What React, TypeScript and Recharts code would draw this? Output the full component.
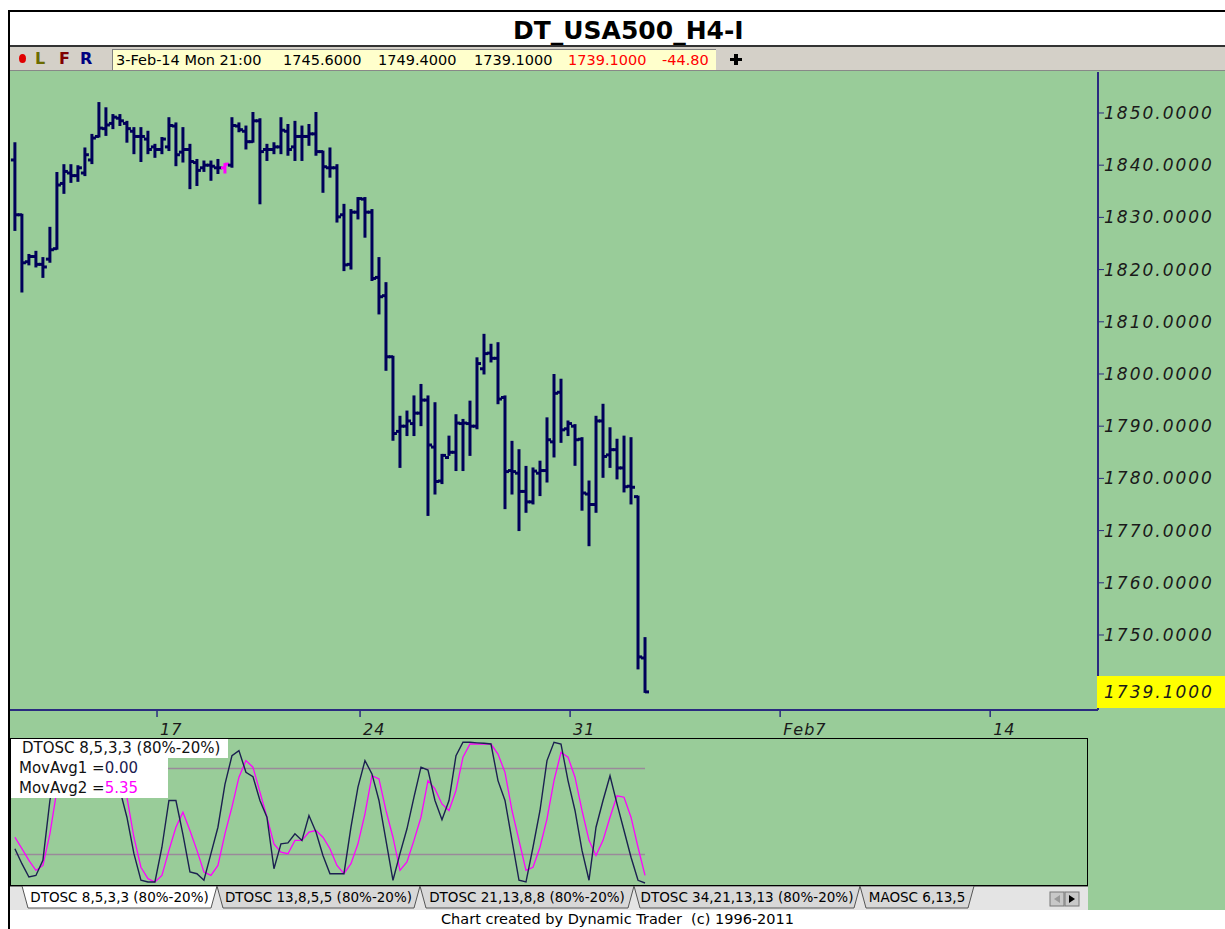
import React from "react";
import { ComposedChart, Bar, XAxis, YAxis, LineChart, Line, ReferenceLine } from "recharts";

// H4 bars, DT_USA500
const openP = [
  1841.0, 1830.5, 1821.5, 1822.5, 1821.0, 1822.0, 1824.0, 1836.5, 1838.5, 1838.0,
  1838.5, 1841.0, 1845.5, 1847.0, 1848.0, 1849.0, 1848.0, 1846.5, 1845.5, 1845.0,
  1843.5, 1843.0, 1843.5, 1847.5, 1842.5, 1843.0, 1840.5, 1839.5, 1840.0, 1839.5,
  1839.5, 1840.0, 1847.5, 1846.5, 1844.5, 1848.5, 1843.0, 1843.0, 1843.5, 1846.5,
  1843.5, 1845.5, 1845.5, 1846.0, 1842.6, 1839.5, 1839.5, 1830.5, 1821.0, 1831.0,
  1833.5, 1831.0, 1818.5, 1815.0, 1803.3, 1789.0, 1790.0, 1790.5, 1792.5, 1795.0,
  1786.0, 1779.5, 1784.0, 1785.0, 1790.5, 1790.5, 1790.0, 1801.0, 1804.0, 1803.0,
  1795.5, 1781.5, 1781.0, 1777.5, 1775.5, 1781.0, 1781.5, 1787.0, 1796.5, 1789.5,
  1790.0, 1787.5, 1777.0, 1775.0, 1791.0, 1784.5, 1785.5, 1782.0, 1778.5, 1776.5, 1745.6,
];
const highP = [
  1844.2, 1830.5, 1822.8, 1823.4, 1822.2, 1828.0, 1838.5, 1840.0, 1840.0, 1839.8,
  1843.2, 1845.8, 1851.9, 1850.9, 1849.6, 1849.6, 1848.3, 1847.1, 1847.1, 1846.4,
  1843.9, 1845.2, 1849.0, 1848.0, 1847.1, 1843.9, 1841.0, 1840.7, 1840.7, 1841.0,
  1840.2, 1849.0, 1848.0, 1847.4, 1850.0, 1848.8, 1843.9, 1844.2, 1849.0, 1847.7,
  1848.3, 1847.4, 1847.7, 1850.0, 1842.6, 1843.2, 1840.0, 1832.4, 1831.4, 1833.7,
  1833.7, 1831.4, 1822.2, 1817.4, 1803.3, 1791.8, 1792.8, 1795.7, 1797.9, 1795.7,
  1794.4, 1784.5, 1788.0, 1792.1, 1791.2, 1794.7, 1803.0, 1807.5, 1805.6, 1805.9,
  1795.7, 1787.0, 1785.4, 1782.2, 1781.9, 1783.2, 1791.5, 1799.8, 1798.9, 1790.9,
  1790.2, 1787.7, 1779.4, 1791.8, 1794.1, 1789.6, 1787.4, 1788.0, 1787.7, 1776.5, 1749.4,
];
const lowP = [
  1827.6, 1815.8, 1821.0, 1820.6, 1818.6, 1821.5, 1824.0, 1834.7, 1836.8, 1837.0,
  1838.1, 1840.4, 1845.5, 1845.8, 1847.1, 1847.7, 1844.5, 1842.3, 1840.8, 1842.3,
  1841.6, 1842.3, 1842.9, 1840.0, 1840.7, 1835.6, 1836.2, 1838.9, 1837.2, 1838.5,
  1838.6, 1839.7, 1846.5, 1843.2, 1844.5, 1832.7, 1841.0, 1842.3, 1842.3, 1842.0,
  1841.0, 1841.0, 1843.9, 1842.0, 1834.9, 1837.8, 1829.2, 1819.9, 1820.2, 1829.8,
  1826.3, 1818.0, 1811.6, 1800.8, 1787.4, 1782.2, 1788.3, 1788.3, 1790.2, 1773.0,
  1777.1, 1779.1, 1784.5, 1781.6, 1781.6, 1784.5, 1789.6, 1800.1, 1802.4, 1794.4,
  1774.3, 1777.1, 1770.1, 1773.6, 1775.2, 1776.8, 1779.4, 1784.2, 1787.0, 1788.3,
  1782.6, 1774.0, 1767.2, 1773.6, 1780.3, 1782.2, 1780.0, 1777.5, 1775.2, 1743.6, 1739.1,
];
const closeP = [
  1830.5, 1821.3, 1822.5, 1821.0, 1820.5, 1823.8, 1836.2, 1838.8, 1838.0, 1839.5,
  1842.0, 1845.2, 1847.1, 1847.7, 1849.2, 1848.5, 1847.0, 1845.5, 1845.5, 1843.0,
  1843.0, 1845.0, 1847.6, 1842.0, 1843.0, 1840.7, 1839.0, 1840.0, 1839.8, 1839.5,
  1840.2, 1847.6, 1846.8, 1844.5, 1848.5, 1842.6, 1843.0, 1843.5, 1846.7, 1843.0,
  1845.5, 1845.5, 1846.0, 1842.6, 1839.7, 1839.5, 1830.1, 1820.9, 1831.0, 1833.6,
  1831.0, 1818.3, 1814.8, 1803.3, 1788.6, 1790.0, 1791.0, 1792.5, 1795.0, 1786.4,
  1779.4, 1784.4, 1785.0, 1790.6, 1790.6, 1790.0, 1802.0, 1803.9, 1803.0, 1795.2,
  1781.3, 1781.3, 1777.5, 1775.5, 1781.4, 1781.5, 1787.4, 1796.3, 1789.3, 1790.5,
  1787.4, 1777.2, 1775.0, 1791.0, 1784.2, 1785.5, 1782.0, 1778.4, 1778.3, 1745.8, 1739.1,
];

// DTOSC 8,5,3,3 and its moving average
const dtosc = [
  24, 13.5, 4.2, 5.3, 15.8, 57.7, 85, 95, 97, 98,
  99, 100, 100, 98, 85, 65, 46, 20.5, 1.9, 0.7,
  0.7, 25, 57.7, 57.7, 34, 7.7, 6.5, 1.9, 20.5, 39,
  69, 89, 92.6, 77.4, 74.4, 57.7, 46, 10, 27.4, 28,
  34.4, 29.8, 47.2, 35.6, 19.3, 6.5, 6.5, 6.5, 39, 67,
  85.6, 76.3, 57.7, 29.8, 1.9, 20.5, 37.9, 60, 81, 79,
  57.7, 44.2, 57.7, 89, 98.4, 98.4, 98, 97.7, 97.2, 71.6,
  57.7, 29.8, 1.9, 0.7, 25, 50.7, 85.6, 98.4, 97.2, 71.6,
  50.7, 22.8, 1.9, 39, 57.7, 75, 55.3, 36.7, 18, 1.9, 0,
];
const movAvg2 = [
  32, 24, 15.8, 8.8, 12.3, 34.4, 65, 80, 90, 95,
  97, 98, 99, 99, 95, 85, 60, 32, 11, 3,
  0.7, 5.3, 22.8, 39, 49.5, 36.7, 22.8, 7.7, 5.3, 12.3,
  34.4, 53, 74, 85.6, 81, 63.5, 46, 27.4, 21.6, 20.5,
  29.8, 29.8, 35.6, 36.7, 32, 24, 12.3, 6.5, 13.5, 27.4,
  48.4, 75, 72.8, 50.7, 32, 8.8, 14.7, 29.8, 46, 71.6,
  65.8, 55.3, 50.7, 64.7, 88, 97.2, 97.2, 97.2, 97.2, 90.2,
  77.4, 50.7, 29.8, 8.8, 11, 25, 44.9, 71.6, 91.4, 88,
  74, 50.7, 29.8, 19.3, 29.8, 46, 61, 60, 46, 25, 5.35,
];

const priceTicks = [1750, 1760, 1770, 1780, 1790, 1800, 1810, 1820, 1830, 1840, 1850];
const dateTickIndex = [20.3, 49.3, 79.3, 109.3, 139.3];
const dateTickLabel = ["17", "24", "31", "Feb7", "14"];
const lastPrice = 1739.1;
const markedBar = 30;

const xDomain: [number, number] = [-0.7, 154.7];
const yDomain: [number, number] = [1735.63, 1857.85];

const bars = openP.map((o, i) => ({
  i,
  open: o,
  high: highP[i],
  low: lowP[i],
  close: closeP[i],
  range: [lowP[i], highP[i]],
}));
const osc = dtosc.map((v, i) => ({ i, osc: v, avg: movAvg2[i] }));

const UI = "'DejaVu Sans', 'Liberation Sans', sans-serif";
const AX = "'DejaVu Sans', sans-serif";
const NAVY = "#00005A";

const OhlcShape = (props: any) => {
  const { x, y, width, height, payload } = props;
  const top = Math.min(y, y + height);
  const h = Math.abs(height);
  const span = payload.high - payload.low || 1;
  const py = (v: number) => top + ((payload.high - v) / span) * h;
  const cx = x + width / 2;
  const color = payload.i === markedBar ? "#FF00FF" : NAVY;
  return (
    <g stroke={color} strokeWidth={3} fill="none">
      <line x1={cx} x2={cx} y1={top - 1} y2={top + h + 1} />
      <line x1={cx - 4} x2={cx} y1={py(payload.open)} y2={py(payload.open)} />
      <line x1={cx} x2={cx + 4} y1={py(payload.close)} y2={py(payload.close)} />
    </g>
  );
};

const PriceTick = (props: any) => {
  const { x, y, payload } = props;
  return (
    <text x={x} y={y + 6} fill="#1a1a1a" fontSize={17} fontStyle="italic" fontFamily={AX} letterSpacing={2}>
      {payload.value.toFixed(4)}
    </text>
  );
};

const DateTick = (props: any) => {
  const { x, y, payload } = props;
  const k = dateTickIndex.indexOf(payload.value);
  return (
    <text x={x + 3} y={y + 16} fill="#1a1a1a" fontSize={16} fontStyle="italic" fontFamily={AX} letterSpacing={1}>
      {k >= 0 ? dateTickLabel[k] : ""}
    </text>
  );
};

const tabs = [
  { label: "DTOSC 8,5,3,3 (80%-20%)", x0: 22, x1: 217 },
  { label: "DTOSC 13,8,5,5 (80%-20%)", x0: 217, x1: 420 },
  { label: "DTOSC 21,13,8,8 (80%-20%)", x0: 420, x1: 634 },
  { label: "DTOSC 34,21,13,13 (80%-20%)", x0: 634, x1: 860 },
  { label: "MAOSC 6,13,5", x0: 860, x1: 974 },
];

const abs = (l: number, t: number, w: number, h: number, extra: React.CSSProperties = {}): React.CSSProperties => ({
  position: "absolute",
  left: l,
  top: t,
  width: w,
  height: h,
  ...extra,
});

export default function App() {
  return (
    <div style={abs(0, 0, 1225, 929, { background: "#fff", fontFamily: UI, overflow: "hidden" })}>
      {/* frame + title */}
      <div style={abs(8, 10, 1217, 2, { background: "#000" })} />
      <div style={abs(8, 10, 2, 919, { background: "#000" })} />
      <div style={abs(513, 15, 400, 32, { fontWeight: "bold", fontSize: 25, lineHeight: "32px", color: "#000" })}>
        DT_USA500_H4-I
      </div>
      <div style={abs(10, 45, 1215, 2, { background: "#333" })} />

      {/* toolbar */}
      <div style={abs(10, 47, 1215, 24, { background: "#D4D0C8" })} />
      <div style={abs(19, 54, 7, 9, { background: "#E00000", borderRadius: "50%" })} />
      <div style={abs(35, 47, 14, 24, { color: "#6B6B00", fontWeight: "bold", fontSize: 16, lineHeight: "24px" })}>L</div>
      <div style={abs(59, 47, 14, 24, { color: "#800000", fontWeight: "bold", fontSize: 16, lineHeight: "24px" })}>F</div>
      <div style={abs(80, 47, 14, 24, { color: "#000080", fontWeight: "bold", fontSize: 16, lineHeight: "24px" })}>R</div>
      <div
        style={abs(112, 49, 603, 20, {
          background: "#FFFFCC",
          borderLeft: "1px solid #808080",
          borderTop: "1px solid #808080",
          overflow: "hidden",
          fontSize: 14.5,
          lineHeight: "20px",
          whiteSpace: "nowrap",
        })}
      >
        <span style={{ position: "absolute", left: 3 }}>3-Feb-14 Mon 21:00</span>
        <span style={{ position: "absolute", left: 170 }}>1745.6000</span>
        <span style={{ position: "absolute", left: 265 }}>1749.4000</span>
        <span style={{ position: "absolute", left: 361 }}>1739.1000</span>
        <span style={{ position: "absolute", left: 455, color: "#FF0000" }}>1739.1000</span>
        <span style={{ position: "absolute", left: 549, color: "#FF0000" }}>-44.80</span>
      </div>
      <div style={abs(730, 58, 12, 3, { background: "#000" })} />
      <div style={abs(734, 54, 4, 11, { background: "#000" })} />
      <div style={abs(10, 70, 1215, 1, { background: "#888" })} />

      {/* green area */}
      <div style={abs(10, 71, 1215, 839, { background: "#99CC99" })} />

      {/* price panel */}
      <div style={abs(0, 0, 1225, 760)}>
        <ComposedChart width={1225} height={760} data={bars} margin={{ top: 72, right: 0, bottom: 20, left: 10 }}>
          <XAxis
            dataKey="i"
            type="number"
            domain={xDomain}
            allowDataOverflow
            ticks={dateTickIndex}
            interval={0}
            height={30}
            axisLine={{ stroke: "#2A2A80", strokeWidth: 2 }}
            tickLine={{ stroke: "#2A2A80", strokeWidth: 1.5 }}
            tickSize={7}
            tickMargin={2}
            tick={<DateTick />}
          />
          <YAxis
            orientation="right"
            width={127}
            domain={yDomain}
            allowDataOverflow
            ticks={priceTicks}
            interval={0}
            axisLine={{ stroke: "#2A2A80", strokeWidth: 2 }}
            tickLine={{ stroke: "#2A2A80", strokeWidth: 1 }}
            tickSize={6}
            tickMargin={0}
            tick={<PriceTick />}
          />
          <Bar dataKey="range" barSize={7} shape={OhlcShape} isAnimationActive={false} />
        </ComposedChart>
      </div>
      <div
        style={abs(1097, 676, 128, 32, {
          background: "#FFFF00",
          fontFamily: AX,
          fontStyle: "italic",
          fontSize: 17,
          letterSpacing: 2,
          lineHeight: "32px",
          paddingLeft: 7,
          boxSizing: "border-box",
          color: "#1a1a1a",
        })}
      >
        {lastPrice.toFixed(4)}
      </div>

      {/* oscillator panel */}
      <div style={abs(10, 700, 1215, 200)}>
        <LineChart width={1215} height={200} data={osc} margin={{ top: 40, right: 127, bottom: 17, left: 0 }}>
          <XAxis dataKey="i" type="number" domain={xDomain} allowDataOverflow hide />
          <YAxis domain={[0, 100]} hide />
          <ReferenceLine segment={[{ x: 0, y: 80 }, { x: 90, y: 80 }]} stroke="#9A8A9A" strokeWidth={1.5} />
          <ReferenceLine segment={[{ x: 0, y: 20 }, { x: 90, y: 20 }]} stroke="#9A8A9A" strokeWidth={1.5} />
          <Line dataKey="avg" stroke="#FF00FF" strokeWidth={1.3} dot={false} isAnimationActive={false} />
          <Line dataKey="osc" stroke="#1B2050" strokeWidth={1.4} dot={false} isAnimationActive={false} />
        </LineChart>
      </div>
      <div style={abs(10, 738, 1078, 148, { border: "1px solid #000", boxSizing: "border-box" })} />
      <div style={abs(11, 739, 217, 19, { background: "#fff" })} />
      <div style={abs(11, 758, 157, 40, { background: "#fff" })} />
      <div style={abs(22, 739, 220, 19, { fontSize: 15, lineHeight: "19px", color: "#111" })}>DTOSC 8,5,3,3 (80%-20%)</div>
      <div style={abs(19, 758, 160, 20, { fontSize: 15, lineHeight: "20px", color: "#111" })}>
        MovAvg1 =<span style={{ color: "#1B2050" }}>0.00</span>
      </div>
      <div style={abs(19, 778, 160, 20, { fontSize: 15, lineHeight: "20px", color: "#111" })}>
        MovAvg2 =<span style={{ color: "#FF00FF" }}>5.35</span>
      </div>

      {/* tabs */}
      <svg style={abs(10, 886, 1078, 24)} width={1078} height={24}>
        <rect x={0} y={0} width={1078} height={24} fill="#E4E4E4" />
        <line x1={0} x2={1078} y1={0.5} y2={0.5} stroke="#808080" />
        {tabs.map((t, k) => (
          <g key={t.label}>
            <polygon
              points={`${t.x0 - 10},0 ${t.x1 - 10},0 ${t.x1 - 16},22 ${t.x0 - 4},22`}
              fill={k === 0 ? "#FFFFFF" : "#D8D8D8"}
              stroke="#555"
              strokeWidth={1}
            />
            <text
              x={(t.x0 + t.x1) / 2 - 10}
              y={16}
              textAnchor="middle"
              fontSize={13.5}
              fontFamily={UI}
              fill="#000"
            >
              {t.label}
            </text>
          </g>
        ))}
        <rect x={1040} y={6} width={14} height={14} fill="#C8C8C8" stroke="#777" />
        <rect x={1055} y={6} width={14} height={14} fill="#C8C8C8" stroke="#777" />
        <polygon points="1050,9 1044,13 1050,17" fill="#999" />
        <polygon points="1059,9 1065,13 1059,17" fill="#000" />
      </svg>

      {/* footer */}
      <div style={abs(10, 910, 1215, 19, { textAlign: "center", fontSize: 14.5, lineHeight: "19px", color: "#000" })}>
        Chart created by Dynamic Trader&nbsp;&nbsp;(c) 1996-2011
      </div>
    </div>
  );
}
